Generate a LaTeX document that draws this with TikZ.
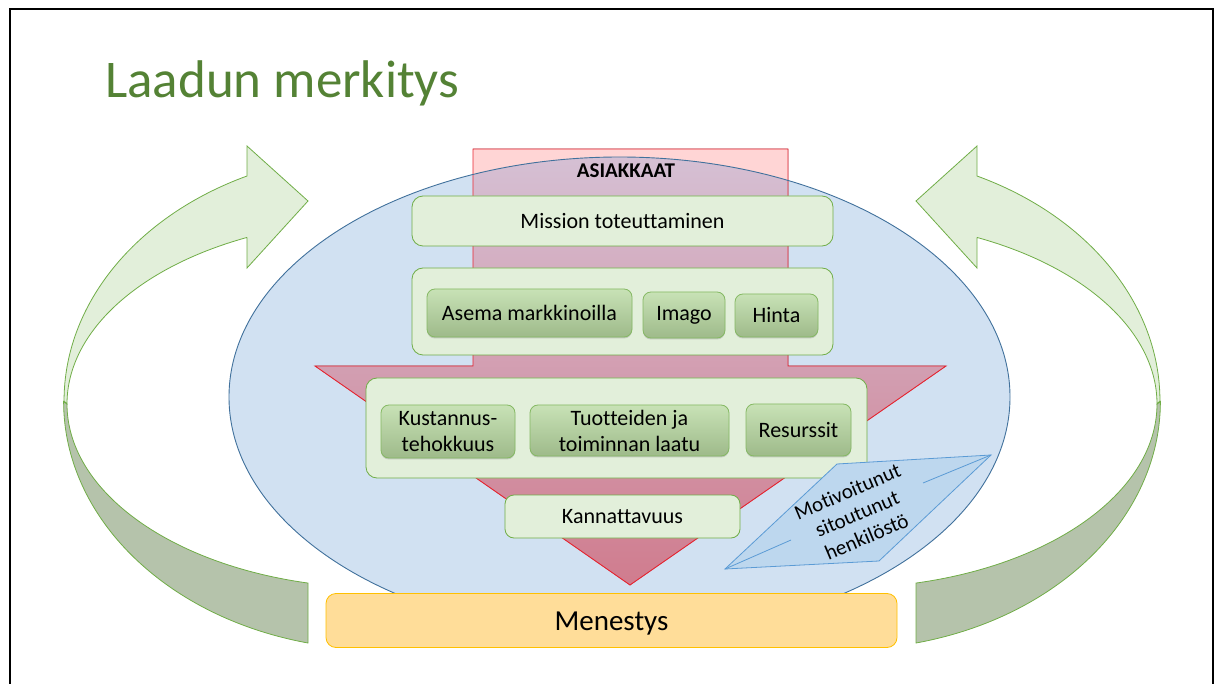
\documentclass[tikz,border=0pt]{standalone}
\usepackage{fontspec}
\setmainfont{Carlito}[Ligatures=CommonOff]
\usetikzlibrary{shadows}
\definecolor{titlegreen}{RGB}{84,130,53}
\definecolor{lgreen}{RGB}{226,239,218}
\definecolor{mgreen}{RGB}{112,173,71}
\definecolor{dgreen}{RGB}{181,195,171}
\definecolor{eblue}{RGB}{209,225,242}
\definecolor{eline}{RGB}{65,113,156}
\definecolor{pinkcap}{RGB}{255,213,213}
\definecolor{redline}{RGB}{232,36,48}
\definecolor{mauvetop}{RGB}{213,193,213}
\definecolor{mauvebot}{RGB}{208,124,142}
\definecolor{gtop}{RGB}{200,226,182}
\definecolor{gbot}{RGB}{158,186,138}
\definecolor{yfill}{RGB}{255,221,153}
\definecolor{yline}{RGB}{255,192,0}
\definecolor{pfill}{RGB}{189,215,238}
\definecolor{pline}{RGB}{91,155,213}
\begin{document}
\begin{tikzpicture}[x=1pt,y=-1pt,
  panel/.style={draw=mgreen, fill=lgreen, rounded corners=11pt, line width=0.8pt,
    inner sep=0pt, font=\fontsize{22}{26}\selectfont, align=center},
  chip/.style={draw=mgreen!85, top color=gtop, bottom color=gbot, rounded corners=8pt,
    line width=0.8pt, inner sep=0pt, font=\fontsize{22}{26}\selectfont, align=center,
    drop shadow={shadow xshift=0pt, shadow yshift=-1.5pt, opacity=0.35}},
  bandlight/.style={draw=mgreen, fill=lgreen, line width=0.8pt, line join=miter},
  banddark/.style={draw=mgreen, fill=dgreen, line width=0.8pt},
]
\useasboundingbox (0,0) rectangle (1224,684);
\clip (0,0) rectangle (1224,684);
% frame
\draw[line width=2pt] (10,9) rectangle (1213,720);
% title
\node[anchor=base west, text=titlegreen, font=\fontsize{53}{60}\selectfont, inner sep=0pt]
  (title) at (105,98) {Laadun merkitys};
% curved arrows (left, then mirrored right)
\foreach \s/\f in {0/1, 1224/-1}{
\begin{scope}[shift={(\s,0)}, xscale=\f]
  \draw[banddark] (308,643) arc[start angle=103.1, end angle=180, x radius=316, y radius=248]
    -- (67,404) arc[start angle=180, end angle=103.3, x radius=313, y radius=184] -- cycle;
  \draw[bandlight] (247,238) -- (247,268) -- (308,201) -- (247,146) -- (247,176)
    arc[start angle=245.1, end angle=180, x radius=316, y radius=248]
    -- (67,404) arc[start angle=180, end angle=244.8, x radius=313, y radius=184] -- cycle;
\end{scope}}
% ellipse fill
\fill[eblue] (619.5,397) ellipse[x radius=390.5, y radius=240];
% red arrow
\fill[top color=mauvetop, bottom color=mauvebot]
  (473,149) -- (788,149) -- (788,366) -- (946,366) -- (630,585) -- (315,366) -- (473,366) -- cycle;
\begin{scope}
  \clip (473,149) rectangle (788,220);
  \fill[pinkcap, even odd rule] (473,149) rectangle (788,220)
    (619.5,397) ellipse[x radius=390.5, y radius=240];
\end{scope}
\draw[redline, line width=0.9pt, line join=miter]
  (473,149) -- (788,149) -- (788,366) -- (946,366) -- (630,585) -- (315,366) -- (473,366) -- cycle;
\draw[eline, line width=0.9pt] (619.5,397) ellipse[x radius=390.5, y radius=240];
% texts and boxes
\node[font=\bfseries\fontsize{21}{25}\selectfont, inner sep=0pt] (asiakkaat) at (626,171) {ASIAKKAAT};
\node[panel, minimum width=421pt, minimum height=50pt] (mission) at (622.5,221) {Mission toteuttaminen};
\node[panel, minimum width=421pt, minimum height=87pt] (group1) at (622.5,311.5) {};
\node[chip, minimum width=205pt, minimum height=48pt] (asema) at (529.5,313) {Asema markkinoilla};
\node[chip, minimum width=82pt, minimum height=46pt] (imago) at (684,315) {Imago};
\node[chip, minimum width=83pt, minimum height=43pt] (hinta) at (776.5,315.5) {Hinta};
\node[panel, minimum width=501pt, minimum height=100pt] (group2) at (616.5,428) {};
\node[chip, minimum width=134pt, minimum height=53pt] (kust) at (448,431.5) {Kustannus-\\tehokkuus};
\node[chip, minimum width=199pt, minimum height=51pt] (tuot) at (629.5,430.5) {Tuotteiden ja\\toiminnan laatu};
\node[chip, minimum width=105pt, minimum height=52pt] (resu) at (798.5,430) {Resurssit};
\node[panel, rounded corners=9pt, minimum width=235pt, minimum height=43pt] (kann) at (622.5,516.5) {Kannattavuus};
% parallelogram
\draw[draw=pline, fill=pfill, line width=0.8pt] (725,569) -- (837,464) -- (991,455) -- (879,561) -- cycle;
\draw[pline, line width=0.8pt] (725,569) -- (791,540);
\draw[pline, line width=0.8pt] (991,455) -- (923,483);
\node[rotate=23, align=center, inner sep=0pt, font=\fontsize{21}{24.5}\selectfont] (motiv) at (857,514)
  {Motivoitunut\\sitoutunut\\henkilöstö};
% success
\node[draw=yline, fill=yfill, rounded corners=10pt, line width=0.8pt, inner sep=0pt,
  minimum width=571pt, minimum height=54pt, text height=19pt, text depth=0pt,
  font=\fontsize{29}{34}\selectfont] (menestys) at (611.5,620.5) {Menestys};
\end{tikzpicture}
\end{document}
